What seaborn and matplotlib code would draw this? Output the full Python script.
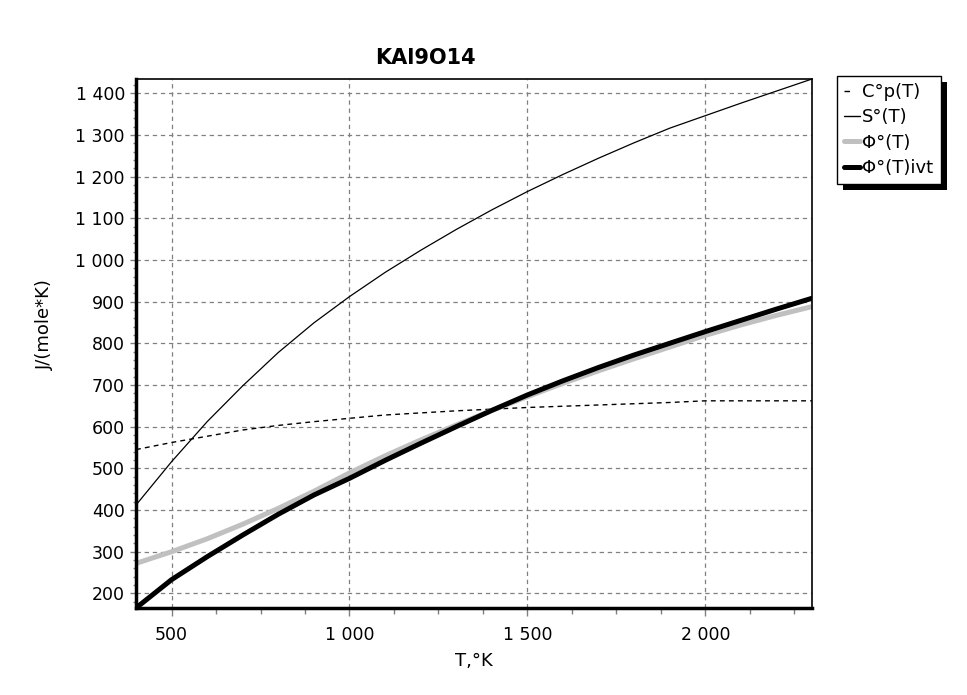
import matplotlib
matplotlib.use("Agg")
import matplotlib.pyplot as plt
import matplotlib.ticker as mticker
from matplotlib.patches import Rectangle
import seaborn as sns

# Thermodynamic functions for KAl9O14
temperature = [400, 500, 600, 700, 800, 900, 1000, 1100, 1200, 1300,
               1400, 1500, 1600, 1700, 1800, 1900, 2000, 2100, 2200, 2300]
cp = [545, 562, 577, 592, 603, 612, 620, 628, 633, 638,
      642, 646, 649, 652, 655, 658, 662, 662, 662, 662]
entropy = [412, 516, 612, 698, 778, 849, 912, 970, 1023, 1073,
           1120, 1164, 1205, 1244, 1281, 1316, 1346, 1376, 1405, 1434]
phi = [272, 300, 331, 366, 404, 445, 489, 530, 568, 604,
       639, 672, 704, 734, 763, 791, 819, 844, 867, 888]
phi_ivt = [165, 233, 288, 340, 390, 436, 476, 519, 560, 600,
           639, 676, 710, 742, 772, 800, 828, 855, 882, 908]

labels = ["C°p(T)", "S°(T)", "Φ°(T)", "Φ°(T)ivt"]

W, H = 967, 695

sns.set_theme(style="white")
plt.rcParams['font.family'] = ['DejaVu Sans']
plt.rcParams['text.color'] = 'black'
plt.rcParams['axes.labelcolor'] = 'black'

fig = plt.figure(figsize=(W / 100, H / 100), dpi=100)
ax = fig.add_axes([136 / W, 1 - 608 / H, 676 / W, 529 / H])

sns.lineplot(x=temperature, y=cp, ax=ax, color="black", linewidth=1.0,
             label=labels[0]).lines[-1].set_dashes([3.5, 3])
sns.lineplot(x=temperature, y=entropy, ax=ax, color="black", linewidth=0.9,
             label=labels[1])
sns.lineplot(x=temperature, y=phi, ax=ax, color="#c0c0c0", linewidth=3.6,
             label=labels[2])
sns.lineplot(x=temperature, y=phi_ivt, ax=ax, color="black", linewidth=3.6,
             label=labels[3])

ax.set_xlim(400, 2300)
ax.set_ylim(165, 1434)

fmt = mticker.FuncFormatter(lambda v, p: f"{v:,.0f}".replace(",", " "))
ax.xaxis.set_major_locator(mticker.MultipleLocator(500))
ax.xaxis.set_minor_locator(mticker.MultipleLocator(125))
ax.yaxis.set_major_locator(mticker.MultipleLocator(100))
ax.yaxis.set_minor_locator(mticker.MultipleLocator(20))
ax.xaxis.set_major_formatter(fmt)
ax.yaxis.set_major_formatter(fmt)

ax.tick_params(axis="both", which="major", direction="out", length=4,
               width=1, color="#808080", labelsize=12.5, labelcolor="black",
               bottom=True, left=True, pad=4)
ax.tick_params(axis="x", which="major", length=6, pad=7)
ax.tick_params(axis="x", which="minor", direction="out", length=4.5,
               width=1, color="#808080", bottom=True)
ax.tick_params(axis="y", which="minor", direction="out", length=2,
               width=1, color="#808080", left=True)

ax.grid(True, which="major", color="#808080", linestyle=(0, (3.5, 3)),
        linewidth=0.9)

for side in ["left", "bottom"]:
    ax.spines[side].set_linewidth(2.5)
    ax.spines[side].set_color("black")
for side in ["top", "right"]:
    ax.spines[side].set_linewidth(1.2)
    ax.spines[side].set_color("black")

ax.set_title("KAl9O14", fontsize=15, fontweight="bold", pad=11,
             x=(425 - 136) / 676, color="black")
ax.set_xlabel("T,°K", fontsize=13, labelpad=6)
ax.set_ylabel("J/(mole*K)", fontsize=13)
ax.yaxis.set_label_coords((54 - 136) / 676, (608 - 325) / 529)

leg = ax.legend(loc="upper left", bbox_to_anchor=(837 / W, 1 - 76 / H),
                bbox_transform=fig.transFigure, borderaxespad=0,
                fancybox=False, frameon=True, edgecolor="black",
                facecolor="white", framealpha=1.0,
                fontsize=13, handlelength=0.85, handletextpad=0.15,
                labelspacing=0.4, borderpad=0.4)
leg.get_frame().set_linewidth(1.0)
for line, lw in zip(leg.get_lines(), [1.0, 1.0, 3.6, 3.6]):
    line.set_linewidth(lw)
leg.get_lines()[0].set_dashes([4, 10])
for t in leg.get_texts():
    t.set_color("black")
leg.set_zorder(10)

# black drop shadow under the legend box
fig.canvas.draw()
bb = leg.get_window_extent().transformed(fig.transFigure.inverted())
shadow = Rectangle((bb.x0 + 6 / W, bb.y0 - 6 / H), bb.width, bb.height,
                   transform=fig.transFigure, facecolor="black",
                   edgecolor="none", clip_on=False, zorder=9)
ax.add_artist(shadow)

fig.savefig("out.png", dpi=100)
